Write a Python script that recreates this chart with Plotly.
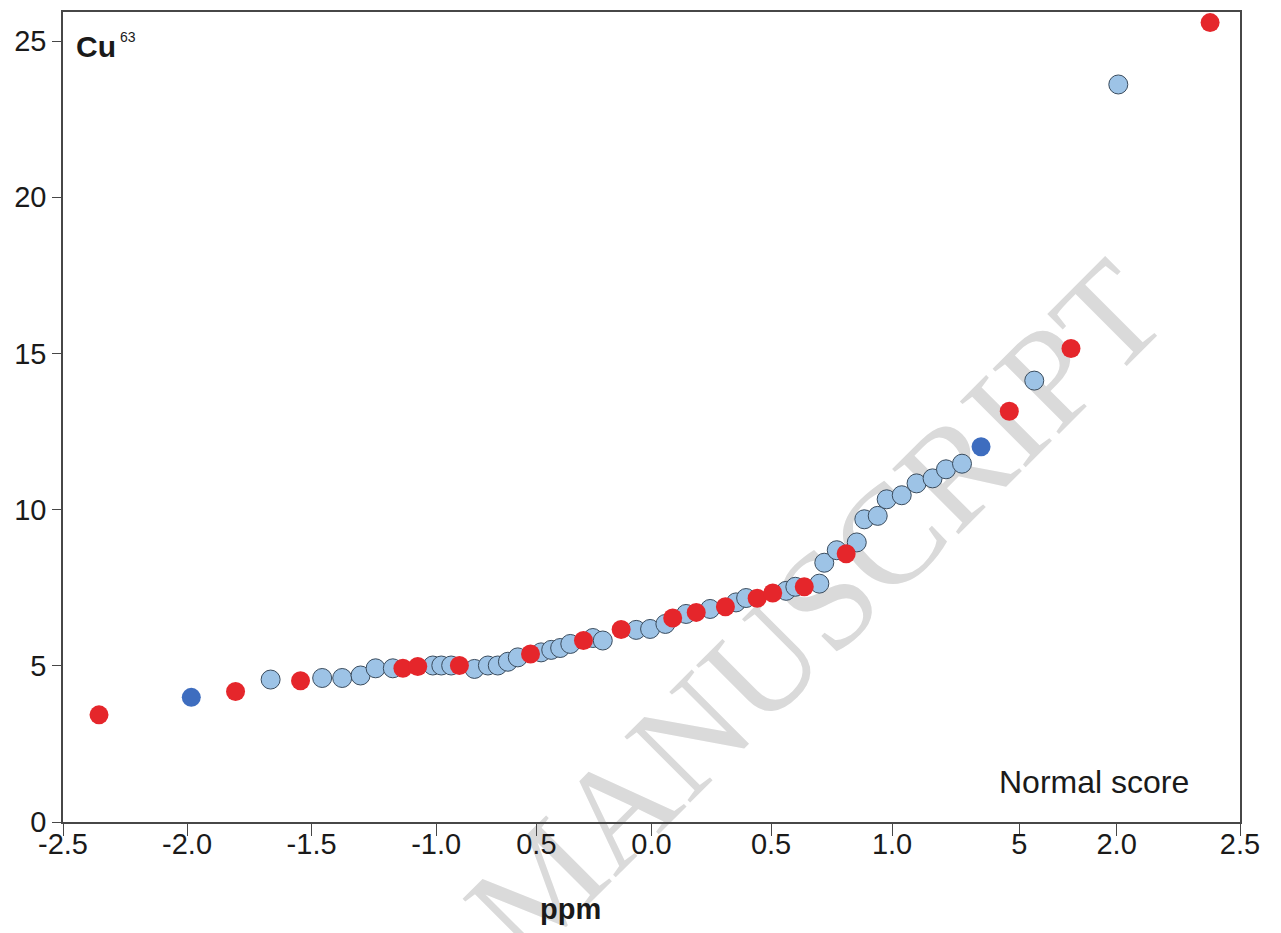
import plotly.graph_objects as go

# Light blue samples (normal score, Cu63 ppm)
lb_x = [-1.618, -1.399, -1.314, -1.236, -1.172, -1.099, -0.929, -0.893, -0.851, -0.752,
        -0.695, -0.653, -0.610, -0.568, -0.469, -0.426, -0.388, -0.345, -0.249, -0.207,
        -0.065, -0.006, 0.059, 0.147, 0.249, 0.359, 0.402, 0.572, 0.611, 0.713,
        0.734, 0.787, 0.872, 0.904, 0.961, 0.999, 1.063, 1.126, 1.194, 1.251,
        1.319, 1.626, 1.983]
lb_y = [4.56, 4.61, 4.61, 4.69, 4.92, 4.92, 5.01, 5.01, 5.01, 4.90,
        5.01, 5.01, 5.13, 5.27, 5.43, 5.51, 5.57, 5.70, 5.89, 5.81,
        6.15, 6.18, 6.34, 6.66, 6.82, 7.03, 7.17, 7.40, 7.53, 7.63,
        8.30, 8.70, 8.95, 9.69, 9.80, 10.33, 10.46, 10.84, 11.00, 11.29,
        11.47, 14.13, 23.61]

# Dark blue samples
db_x = [-1.955, 1.400]
db_y = [3.99, 12.01]

# Red samples
r_x = [-2.347, -1.767, -1.491, -1.056, -0.993, -0.816, -0.514, -0.289, -0.129, 0.090,
       0.190, 0.314, 0.449, 0.515, 0.649, 0.827, 1.520, 1.782, 2.373]
r_y = [3.43, 4.18, 4.52, 4.92, 4.98, 5.01, 5.38, 5.81, 6.16, 6.53,
       6.71, 6.89, 7.16, 7.33, 7.53, 8.59, 13.15, 15.16, 25.59]

# Axis ticks as printed in the original figure
x_tickvals = [-2.5, -1.973, -1.444, -0.915, -0.489, 0.0, 0.508, 1.022, 1.562, 1.976, 2.5]
x_ticktext = ["-2.5", "-2.0", "-1.5", "-1.0", "0.5", "0.0", "0.5", "1.0", "5", "2.0", "2.5"]
y_tickvals = [0, 5, 10, 15, 20, 25]
y_ticktext = ["0", "5", "10", "15", "20", "25"]

FONT = "Liberation Sans, Arial, sans-serif"
AXC = "#474747"

fig = go.Figure()
fig.add_trace(go.Scatter(x=lb_x, y=lb_y, mode="markers",
                         marker=dict(size=19, color="#9DC3E6",
                                     line=dict(width=1, color="#3a4c5e")),
                         showlegend=False))
fig.add_trace(go.Scatter(x=db_x, y=db_y, mode="markers",
                         marker=dict(size=19, color="#3E6DBF", line=dict(width=0)),
                         showlegend=False))
fig.add_trace(go.Scatter(x=r_x, y=r_y, mode="markers",
                         marker=dict(size=19, color="#E5262B", line=dict(width=0)),
                         showlegend=False))

fig.update_layout(
    width=1281, height=933,
    margin=dict(l=55, r=49, t=2, b=119),
    paper_bgcolor="white", plot_bgcolor="white",
    font=dict(family=FONT, color="#1a1a1a"),
    xaxis=dict(range=[-2.5, 2.5], tickmode="array", tickvals=x_tickvals, ticktext=x_ticktext,
               showline=True, linecolor=AXC, linewidth=1.5, mirror=True,
               ticks="outside", ticklen=12, tickwidth=1.3, tickcolor=AXC,
               ticklabelstandoff=-17,
               showgrid=False, zeroline=False, tickfont=dict(size=29, family=FONT, color="#1a1a1a")),
    yaxis=dict(range=[0, 25.93], tickmode="array", tickvals=y_tickvals, ticktext=y_ticktext,
               showline=True, linecolor=AXC, linewidth=1.5, mirror=True,
               ticks="outside", ticklen=9, tickwidth=1.3, tickcolor=AXC,
               showgrid=False, zeroline=False, tickfont=dict(size=29, family=FONT, color="#1a1a1a")),
    shapes=[dict(type="rect", xref="paper", yref="paper", x0=0.592, x1=0.668, y0=0.245, y1=0.305,
                 line=dict(width=0), fillcolor="rgba(0,0,0,0)", layer="below",
                 label=dict(text="MANUSCRIPT", textangle=-45, textposition="middle center",
                            font=dict(family="Liberation Serif, Times New Roman, serif",
                                      size=142, color="#dadada")))],
    annotations=[
        dict(text="<b>Cu</b>", xref="paper", yref="paper", x=0.0095, y=0.958,
             xanchor="left", yanchor="middle", showarrow=False,
             font=dict(size=30, family=FONT, color="#1a1a1a")),
        dict(text="63", xref="paper", yref="paper", x=0.047, y=0.969,
             xanchor="left", yanchor="middle", showarrow=False,
             font=dict(size=14, family=FONT, color="#1a1a1a")),
        dict(text="Normal score", xref="paper", yref="paper", x=0.9585, y=0.05,
             xanchor="right", yanchor="middle", showarrow=False,
             font=dict(size=32, family=FONT, color="#1a1a1a")),
        dict(text="<b>ppm</b>", xref="paper", yref="paper", x=0.431, y=-0.107,
             xanchor="center", yanchor="middle", showarrow=False,
             font=dict(size=29, family=FONT, color="#1a1a1a")),
    ],
)

fig.write_html("out.html")
